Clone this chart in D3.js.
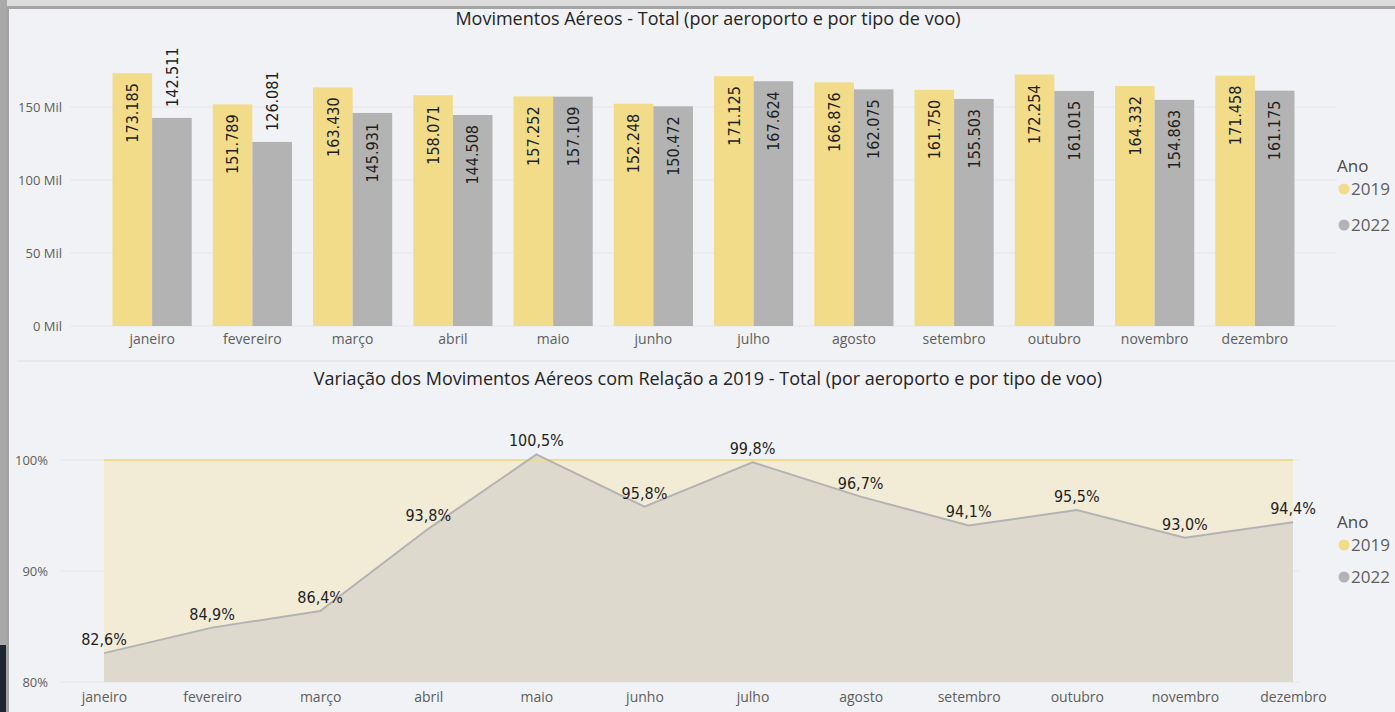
<!DOCTYPE html>
<html>
<head>
<meta charset="utf-8">
<script src="https://cdn.jsdelivr.net/npm/d3@7"></script>
<style>
  body { margin: 0; background: #dcdcdc; }
  svg { display: block; }
</style>
</head>
<body>
<div id="chart"></div>
<script>
// data
const months = ["janeiro", "fevereiro", "março", "abril", "maio", "junho",
    "julho", "agosto", "setembro", "outubro", "novembro", "dezembro"];
const years = ["2019", "2022"];
const mov2019 = [173185, 151789, 163430, 158071, 157252, 152248, 171125, 166876, 161750, 172254, 164332, 171458];
const mov2022 = [142511, 126081, 145931, 144508, 157109, 150472, 167624, 162075, 155503, 161015, 154863, 161175];
const var2019 = [100, 100, 100, 100, 100, 100, 100, 100, 100, 100, 100, 100];
const var2022 = [82.6, 84.9, 86.4, 93.8, 100.5, 95.8, 99.8, 96.7, 94.1, 95.5, 93.0, 94.4];
const barTicks = [0, 50000, 100000, 150000];
const pctTicks = [80, 90, 100];

const W = 1395, H = 712;
const colors = {"2019": "#f2dc8a", "2022": "#b3b3b3"};
const uiFont = "'Segoe UI', 'Open Sans', sans-serif";
const numFont = "'Liberation Sans Narrow', 'DejaVu Sans Condensed', 'Roboto', sans-serif";

const ptBR = d3.formatLocale({decimal: ",", thousands: ".", grouping: [3], currency: ["R$", ""]});
const fmtInt = ptBR.format(",d");
const fmtPct = v => ptBR.format(".1f")(v) + "%";

const svg = d3.select("#chart").append("svg")
    .attr("width", W)
    .attr("height", H);

// frame / background
svg.append("rect").attr("width", W).attr("height", H).attr("fill", "#dcdcdc");
svg.append("rect").attr("x", 0).attr("y", 0).attr("width", 7).attr("height", H).attr("fill", "#a9a9a9");
svg.append("rect").attr("x", 0).attr("y", 645).attr("width", 7).attr("height", H - 645).attr("fill", "#1f2631");
svg.append("rect").attr("x", 6).attr("y", 6).attr("width", W).attr("height", 3).attr("fill", "#a4a4a4");
svg.append("rect").attr("x", 6).attr("y", 6).attr("width", 3).attr("height", H).attr("fill", "#a4a4a4");
svg.append("rect").attr("x", 9).attr("y", 9).attr("width", W - 9).attr("height", H - 9).attr("fill", "#f0f2f5");
svg.append("line").attr("x1", 17).attr("x2", W).attr("y1", 361).attr("y2", 361)
    .attr("stroke", "#e2e5e9").attr("stroke-width", 1.5);

// ---------- top chart: clustered bars ----------
const barG = svg.append("g");

barG.append("text")
    .attr("x", 708).attr("y", 25)
    .attr("text-anchor", "middle")
    .attr("font-family", uiFont).attr("font-size", 18)
    .attr("fill", "#252423")
    .text("Movimentos Aéreos - Total (por aeroporto e por tipo de voo)");

const x = d3.scaleBand()
    .domain(months)
    .range([102, 1305])
    .paddingInner(0.21)
    .paddingOuter(0.105);

const x1 = d3.scaleBand()
    .domain(years)
    .range([0, x.bandwidth()]);

const y = d3.scaleLinear()
    .domain([0, 150000])
    .range([326, 107]);

// gridlines
barG.selectAll(".grid")
    .data(barTicks)
    .enter()
    .append("line")
    .attr("x1", 70).attr("x2", 1337)
    .attr("y1", d => y(d)).attr("y2", d => y(d))
    .attr("stroke", "#e4e6ea").attr("stroke-width", 1);

// y axis
const yAxis = barG.append("g")
    .attr("transform", "translate(62,0)")
    .call(d3.axisLeft(y).tickValues(barTicks).tickSize(0).tickPadding(0)
        .tickFormat(d => (d / 1000) + " Mil"));
yAxis.select(".domain").remove();
yAxis.selectAll("text")
    .attr("font-family", uiFont).attr("font-size", 13).attr("fill", "#605e5c");

// x axis
const xAxis = barG.append("g")
    .attr("transform", "translate(0,326)")
    .call(d3.axisBottom(x).tickSize(0).tickPadding(8));
xAxis.select(".domain").remove();
xAxis.selectAll("text")
    .attr("font-family", uiFont).attr("font-size", 14).attr("fill", "#605e5c");

const barRows = months.map((m, i) => ({
    month: m,
    vals: [
        {year: "2019", value: mov2019[i], ratio: 1},
        {year: "2022", value: mov2022[i], ratio: mov2022[i] / mov2019[i]}
    ]
}));

const groups = barG.selectAll(".grp")
    .data(barRows)
    .enter()
    .append("g")
    .attr("transform", d => `translate(${x(d.month)},0)`);

groups.selectAll("rect")
    .data(d => d.vals)
    .enter()
    .append("rect")
    .attr("x", d => x1(d.year))
    .attr("y", d => y(d.value))
    .attr("width", x1.bandwidth())
    .attr("height", d => y(0) - y(d.value))
    .attr("fill", d => colors[d.year]);

// data labels: inside end, or outside end when the bar is well below 2019
groups.selectAll(".lbl")
    .data(d => d.vals)
    .enter()
    .append("text")
    .attr("transform", d => {
        const outside = d.ratio < 0.85;
        const yy = outside ? y(d.value) - 11 : y(d.value) + 10;
        return `translate(${x1(d.year) + x1.bandwidth() / 2},${yy}) rotate(-90)`;
    })
    .attr("text-anchor", d => d.ratio < 0.85 ? "start" : "end")
    .attr("dy", "0.36em")
    .attr("font-family", numFont).attr("font-size", 16)
    .attr("fill", "#1f1f1f")
    .text(d => fmtInt(d.value));

// ---------- bottom chart: variation areas ----------
const varG = svg.append("g");

varG.append("text")
    .attr("x", 708).attr("y", 385)
    .attr("text-anchor", "middle")
    .attr("font-family", uiFont).attr("font-size", 18)
    .attr("fill", "#252423")
    .text("Variação dos Movimentos Aéreos com Relação a 2019 - Total (por aeroporto e por tipo de voo)");

const xp = d3.scalePoint()
    .domain(months)
    .range([104, 1293]);

const yp = d3.scaleLinear()
    .domain([80, 100])
    .range([682, 460]);

varG.selectAll(".grid")
    .data(pctTicks)
    .enter()
    .append("line")
    .attr("x1", 60).attr("x2", 1300)
    .attr("y1", d => yp(d)).attr("y2", d => yp(d))
    .attr("stroke", "#e4e6ea").attr("stroke-width", 1);

const ypAxis = varG.append("g")
    .attr("transform", "translate(48,0)")
    .call(d3.axisLeft(yp).tickValues(pctTicks).tickSize(0).tickPadding(0)
        .tickFormat(d => d + "%"));
ypAxis.select(".domain").remove();
ypAxis.selectAll("text")
    .attr("font-family", uiFont).attr("font-size", 13).attr("fill", "#605e5c");

const xpAxis = varG.append("g")
    .attr("transform", "translate(0,682)")
    .call(d3.axisBottom(xp).tickSize(0).tickPadding(10));
xpAxis.select(".domain").remove();
xpAxis.selectAll("text")
    .attr("font-family", uiFont).attr("font-size", 14).attr("fill", "#605e5c");

const area = d3.area()
    .x((d, i) => xp(months[i]))
    .y0(yp(80))
    .y1(d => yp(d));
const line = d3.line()
    .x((d, i) => xp(months[i]))
    .y(d => yp(d));

varG.append("path").datum(var2019)
    .attr("d", area).attr("fill", "#f2ead3").attr("fill-opacity", 0.9);
varG.append("path").datum(var2022)
    .attr("d", area).attr("fill", "#ddd9cd");
varG.append("path").datum(var2019)
    .attr("d", line).attr("fill", "none")
    .attr("stroke", colors["2019"]).attr("stroke-width", 2);
varG.append("path").datum(var2022)
    .attr("d", line).attr("fill", "none")
    .attr("stroke", colors["2022"]).attr("stroke-width", 2);

varG.selectAll(".plbl")
    .data(var2022)
    .enter()
    .append("text")
    .attr("x", (d, i) => xp(months[i]))
    .attr("y", d => yp(d) - 8)
    .attr("text-anchor", "middle")
    .attr("font-family", numFont).attr("font-size", 16)
    .attr("fill", "#1f1f1f")
    .text(d => fmtPct(d));

// ---------- legends ----------
function legend(g, yTitle, gap) {
    g.append("text")
        .attr("x", 1337).attr("y", yTitle)
        .attr("font-family", uiFont).attr("font-size", 17)
        .attr("fill", "#4a4a4a")
        .text("Ano");
    const items = g.selectAll(".leg")
        .data(years)
        .enter()
        .append("g")
        .attr("transform", (d, i) => `translate(1344,${yTitle + 17 + i * gap})`);
    items.append("circle")
        .attr("r", 5.5)
        .attr("fill", d => colors[d]);
    items.append("text")
        .attr("x", 7).attr("dy", "0.35em")
        .attr("font-family", uiFont).attr("font-size", 17)
        .attr("fill", "#605e5c")
        .text(d => d);
}
legend(barG, 172, 36);
legend(varG, 528, 32);
</script>
</body>
</html>
